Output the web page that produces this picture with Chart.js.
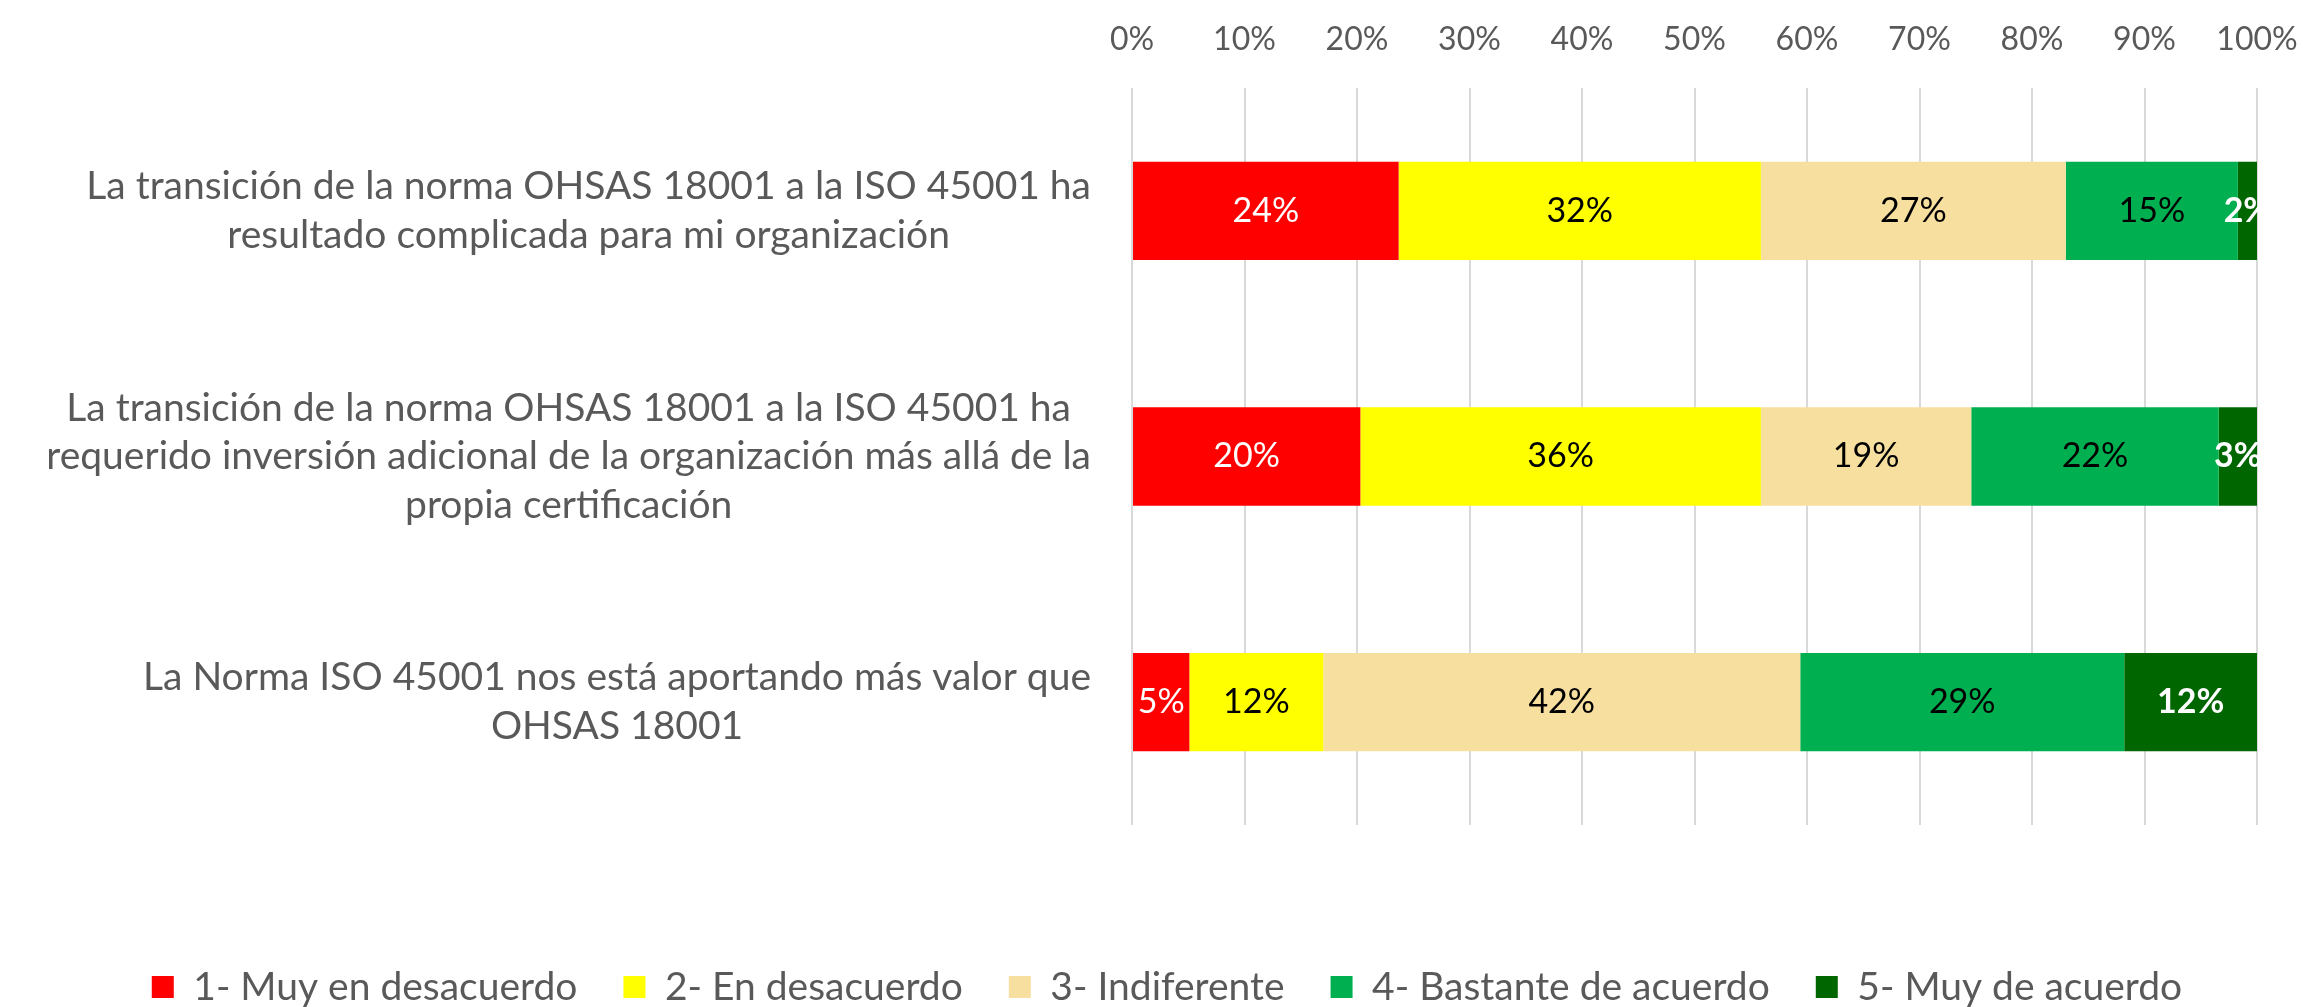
<!DOCTYPE html>
<html>
<head>
<meta charset="utf-8">
<script src="https://cdn.jsdelivr.net/npm/chart.js@4.4.0/dist/chart.umd.min.js"></script>
<style>
  html, body { margin: 0; padding: 0; background: #fff; }
</style>
</head>
<body>
<canvas id="likertChart" width="2303" height="1007"></canvas>
<script>
// Questions (one array of lines per bar)
const questions = [
  ['La transición de la norma OHSAS 18001 a la ISO 45001 ha', 'resultado complicada para mi organización'],
  ['La transición de la norma OHSAS 18001 a la ISO 45001 ha', 'requerido inversión adicional de la organización más allá de la', 'propia certificación'],
  ['La Norma ISO 45001 nos está aportando más valor que', 'OHSAS 18001']
];

const seriesNames = ['1- Muy en desacuerdo', '2- En desacuerdo', '3- Indiferente', '4- Bastante de acuerdo', '5- Muy de acuerdo'];

// percentages
const muyDesacuerdo   = [23.7, 20.3, 5.1];
const enDesacuerdo    = [32.2, 35.6, 11.9];
const indiferente     = [27.1, 18.7, 42.4];
const bastanteAcuerdo = [15.3, 22.0, 28.8];
const muyAcuerdo      = [1.7, 3.4, 11.8];

const xTicks = [0, 10, 20, 30, 40, 50, 60, 70, 80, 90, 100];

const seriesData = [muyDesacuerdo, enDesacuerdo, indiferente, bastanteAcuerdo, muyAcuerdo];
const barColors = ['#FF0000', '#FFFF00', '#F7DF9F', '#00B050', '#006600'];
const labelColors = ['#FFFFFF', '#000000', '#000000', '#000000', '#FFFFFF'];
const labelWeights = ['normal', 'normal', 'normal', 'normal', 'bold'];

const FONT = 'Lato';
const GREY = '#595959';

// draws the value inside each segment
const segmentLabels = {
  id: 'segmentLabels',
  afterDatasetsDraw(chart) {
    const ctx = chart.ctx;
    ctx.save();
    ctx.textAlign = 'center';
    ctx.textBaseline = 'middle';
    chart.data.datasets.forEach((ds, di) => {
      const meta = chart.getDatasetMeta(di);
      meta.data.forEach((bar, i) => {
        const p = bar.getProps(['x', 'y', 'base'], true);
        ctx.font = labelWeights[di] + ' 34px ' + FONT;
        ctx.fillStyle = labelColors[di];
        ctx.fillText(Math.round(ds.data[i]) + '%', (p.x + p.base) / 2, p.y);
      });
    });
    ctx.restore();
  }
};

// question text: block right aligned next to the plot, lines centered in the block
const questionLabels = {
  id: 'questionLabels',
  afterDraw(chart) {
    const ctx = chart.ctx;
    const yScale = chart.scales.y;
    const right = chart.chartArea.left - 41;
    const lineH = 48.5;
    ctx.save();
    ctx.font = '39px ' + FONT;
    ctx.fillStyle = GREY;
    ctx.textAlign = 'center';
    ctx.textBaseline = 'middle';
    questions.forEach((lines, i) => {
      const blockW = Math.max(...lines.map(l => ctx.measureText(l).width));
      const cx = right - blockW / 2;
      const cy = yScale.getPixelForValue(i);
      const y0 = cy - (lines.length - 1) * lineH / 2;
      lines.forEach((l, k) => ctx.fillText(l, cx, y0 + k * lineH));
    });
    ctx.restore();
  }
};

const ctx = document.getElementById('likertChart').getContext('2d');
const chart = new Chart(ctx, {
  type: 'bar',
  data: {
    labels: questions.map(q => q.join(' ')),
    datasets: seriesData.map((d, i) => ({
      label: seriesNames[i],
      data: d,
      backgroundColor: barColors[i],
      borderWidth: 0,
      categoryPercentage: 0.8,
      barPercentage: 0.5
    }))
  },
  options: {
    indexAxis: 'y',
    responsive: false,
    animation: false,
    layout: { padding: { left: 77, right: 46, top: 21, bottom: -9.5 } },
    scales: {
      x: {
        position: 'top',
        stacked: true,
        min: 0,
        max: 100,
        afterBuildTicks: s => { s.ticks = xTicks.map(v => ({ value: v })); },
        afterFit: s => { s.height = 67; s.paddingRight = 0; s.paddingLeft = 0; },
        ticks: {
          callback: v => v + '%',
          color: GREY,
          font: { family: FONT, size: 32 },
          padding: 29
        },
        grid: { color: '#D9D9D9', lineWidth: 2, drawTicks: false },
        border: { display: false }
      },
      y: {
        stacked: true,
        ticks: { display: false },
        grid: { display: false },
        border: { display: false },
        afterFit: s => { s.width = 1132 - 77; }
      }
    },
    plugins: {
      legend: {
        position: 'bottom',
        title: { display: true, text: '', padding: { top: 95.5, bottom: 0 }, font: { size: 1, lineHeight: 1 } },
        labels: {
          boxWidth: 22,
          boxHeight: 22,
          padding: 46,
          color: GREY,
          font: { family: FONT, size: 39 }
        }
      },
      tooltip: { enabled: false }
    }
  },
  plugins: [segmentLabels, questionLabels]
});
</script>
</body>
</html>
